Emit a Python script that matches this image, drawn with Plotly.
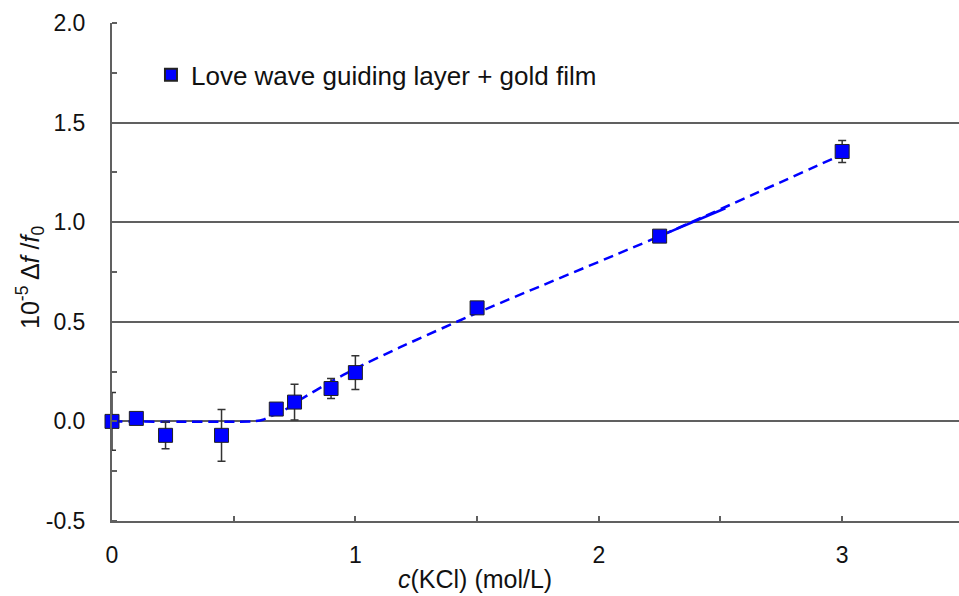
import plotly.graph_objects as go

# Measured data
conc = [0.0, 0.1, 0.22, 0.45, 0.675, 0.75, 0.9, 1.0, 1.5, 2.25, 3.0]
shift = [0.0, 0.015, -0.07, -0.07, 0.062, 0.097, 0.165, 0.245, 0.57, 0.93, 1.355]
shift_err = [0.145, 0.0, 0.067, 0.13, 0.02, 0.09, 0.05, 0.085, 0.01, 0.01, 0.055]

# Fitted curve
fit_x = [0.0, 0.58, 0.62, 0.66, 0.70, 0.775, 0.9, 1.0, 1.18, 1.5, 2.25, 3.0]
fit_y = [0.0, 0.0, 0.008, 0.03, 0.05, 0.11, 0.20, 0.265, 0.37, 0.545, 0.93, 1.34]

# short solid stretch of the fit line
solid_x = [2.26, 2.52]
solid_y = [0.935, 1.07]

# tick labels
y_ticks = [-0.5, 0.0, 0.5, 1.0, 1.5, 2.0]
y_tick_labels = ["-0.5", "0.0", "0.5", "1.0", "1.5", "2.0"]
x_ticks = [0, 1, 2, 3]
x_tick_labels = ["0", "1", "2", "3"]

series_name = "Love wave guiding layer + gold film"

FONT = "Liberation Sans, Arial, sans-serif"
BLUE = "#0000FF"
GRID = "#606060"

fig = go.Figure()

fig.add_trace(go.Scatter(
    x=fit_x, y=fit_y, mode="lines", showlegend=False, hoverinfo="skip",
    line=dict(color=BLUE, width=2.5, dash="10px,6px", shape="spline", smoothing=0.6),
))
fig.add_trace(go.Scatter(
    x=solid_x, y=solid_y, mode="lines", showlegend=False, hoverinfo="skip",
    line=dict(color=BLUE, width=2.5),
))
fig.add_trace(go.Scatter(
    x=conc, y=shift, mode="markers", name=series_name, cliponaxis=False,
    marker=dict(symbol="square", size=14, color=BLUE,
                line=dict(color="#222222", width=1)),
    error_y=dict(type="data", array=shift_err, visible=True,
                 color="#333333", thickness=1.5, width=4),
))

fig.update_layout(
    width=959, height=596,
    margin=dict(l=112, r=0, t=23, b=75),
    paper_bgcolor="white", plot_bgcolor="white",
    font=dict(family=FONT, size=23, color="#111111"),
    showlegend=True,
    legend=dict(x=0.046, y=0.896, xanchor="left", yanchor="middle",
                bgcolor="rgba(0,0,0,0)", font=dict(size=26, family=FONT, color="#111111"),
                itemsizing="constant"),
    annotations=[
        dict(text="<i>c</i>(KCl) (mol/L)", xref="paper", yref="paper",
             x=(475 - 112) / 847, y=-(579 - 521) / 498, xanchor="center", yanchor="middle",
             showarrow=False, font=dict(size=25, family=FONT, color="#111111")),
        dict(text="10<sup>-5</sup> Δ<i>f</i> /<i>f</i><sub>0</sub>", xref="paper", yref="paper",
             x=-(112 - 30) / 847, y=(521 - 278) / 498, xanchor="center", yanchor="middle",
             textangle=-90, showarrow=False,
             font=dict(size=25, family=FONT, color="#111111")),
    ],
)

fig.update_xaxes(
    range=[0, 3.48], tickmode="array", tickvals=x_ticks, ticktext=x_tick_labels,
    showgrid=False, zeroline=False,
    showline=True, linecolor=GRID, linewidth=2,
    ticks="inside", ticklen=5, tickwidth=1.5, tickcolor=GRID,
    minor=dict(dtick=0.5, tick0=0, ticks="inside", ticklen=5, tickwidth=1.5,
               tickcolor=GRID, showgrid=False),
    ticklabelstandoff=12,
    tickfont=dict(size=23, family=FONT, color="#111111"),
)

fig.update_yaxes(
    range=[-0.5, 2.0], tickmode="array", tickvals=y_ticks, ticktext=y_tick_labels,
    showgrid=True, gridcolor=GRID, gridwidth=2,
    zeroline=False,
    showline=True, linecolor=GRID, linewidth=2,
    ticks="",
    minor=dict(dtick=0.25, tick0=0, ticks="inside", ticklen=5, tickwidth=1.5,
               tickcolor=GRID, showgrid=False),
    ticklabelstandoff=20,
    tickfont=dict(size=23, family=FONT, color="#111111"),
)

fig.write_html("out.html")
